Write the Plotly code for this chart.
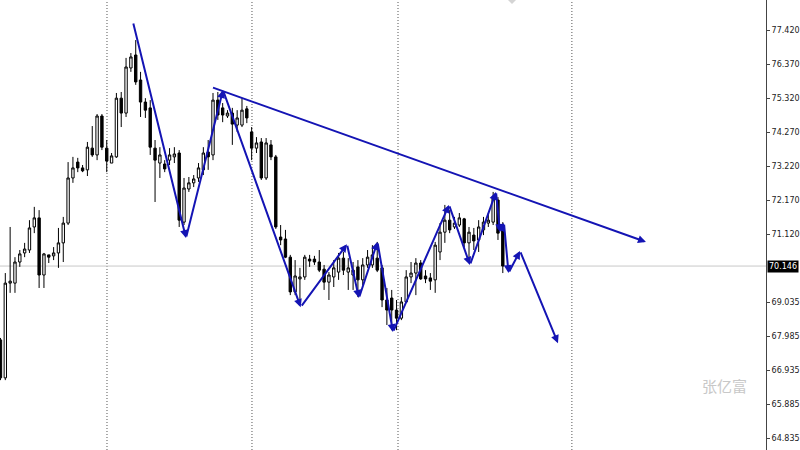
import plotly.graph_objects as go

# ---- candle data (bar index, OHLC) ----
opens = [67.87, 66.70, 69.62, 69.62, 70.27, 70.55, 70.64, 71.35, 71.63, 69.87,
         70.49, 70.46, 70.55, 70.86, 71.47, 72.86, 73.35, 73.17, 73.11, 73.78,
         73.57, 74.77, 73.78, 73.32, 73.51, 75.32, 74.86, 76.25, 76.65, 75.88,
         75.20, 75.02, 73.78, 73.32, 73.29, 73.41, 73.51, 73.63, 71.50, 72.52,
         72.71, 72.86, 73.11, 73.66, 73.57, 75.26, 75.02, 74.77, 74.86, 74.49,
         74.49, 74.99, 74.28, 73.78, 73.97, 72.86, 73.88, 73.51, 71.04, 70.98,
         70.42, 69.35, 69.75, 69.81, 70.36, 70.36, 70.27, 70.05, 69.65, 69.81,
         69.96, 70.39, 69.96, 69.87, 70.12, 69.72, 70.18, 70.18, 70.39, 70.09,
         69.10, 69.16, 68.79, 68.54, 69.04, 69.81, 69.93, 70.24, 69.84, 69.78,
         69.72, 70.58, 71.19, 71.56, 71.35, 71.41, 71.60, 70.86, 71.10, 70.95,
         71.26, 71.47, 71.50, 72.18, 71.41]
highs = [67.93, 69.93, 71.35, 70.42, 70.64, 70.86, 71.56, 71.97, 71.87, 70.55,
         70.49, 70.73, 71.32, 71.66, 73.35, 73.51, 73.48, 73.26, 73.97, 74.46,
         74.83, 74.83, 74.03, 73.63, 75.48, 75.51, 76.56, 76.71, 77.11, 76.13,
         75.32, 75.26, 74.03, 73.81, 73.41, 73.78, 73.81, 73.72, 72.86, 72.89,
         72.95, 73.32, 73.81, 74.03, 75.48, 75.51, 75.17, 74.95, 75.02, 74.95,
         75.32, 75.08, 74.43, 74.12, 74.09, 74.09, 74.03, 73.57, 71.41, 71.26,
         70.49, 70.33, 70.09, 70.49, 70.49, 70.46, 70.64, 70.18, 69.96, 70.33,
         70.55, 70.58, 70.39, 70.27, 70.33, 70.39, 70.64, 70.79, 70.89, 70.18,
         69.47, 69.41, 69.10, 69.19, 70.02, 70.27, 70.39, 70.33, 70.02, 69.93,
         70.89, 71.47, 72.03, 71.87, 71.66, 71.78, 71.63, 71.35, 71.32, 71.56,
         71.66, 71.78, 72.43, 72.27, 71.50]
lows = [66.63, 66.63, 69.32, 69.32, 70.12, 70.42, 70.55, 71.16, 69.47, 69.47,
        70.24, 70.33, 70.09, 70.27, 71.41, 72.71, 73.04, 73.04, 72.92, 73.51,
        73.41, 73.72, 73.04, 73.32, 73.48, 74.43, 74.74, 76.13, 75.73, 74.74,
        74.71, 73.57, 72.12, 72.86, 73.04, 73.26, 73.32, 71.35, 71.41, 72.43,
        72.58, 72.74, 72.95, 73.11, 73.41, 74.65, 74.58, 74.71, 73.88, 74.28,
        74.43, 74.55, 73.41, 73.63, 72.80, 72.80, 73.41, 71.29, 70.79, 70.39,
        69.25, 69.25, 69.10, 69.72, 70.12, 70.18, 69.96, 69.41, 69.10, 69.50,
        69.72, 69.87, 69.41, 69.41, 69.19, 69.56, 70.09, 70.09, 69.96, 68.88,
        68.33, 68.17, 68.17, 68.48, 69.01, 69.62, 69.25, 69.72, 69.62, 69.41,
        69.32, 70.33, 70.86, 71.16, 71.29, 71.35, 70.73, 70.33, 70.64, 70.58,
        71.10, 71.35, 71.41, 70.95, 69.93]
closes = [66.70, 69.62, 69.68, 70.27, 70.52, 70.67, 71.32, 71.63, 69.87, 70.52,
          70.42, 70.55, 70.86, 71.47, 72.86, 73.17, 73.17, 73.08, 73.81, 73.57,
          74.77, 73.81, 73.38, 73.54, 75.32, 74.86, 76.28, 76.59, 75.82, 75.20,
          74.95, 73.81, 73.41, 73.57, 73.14, 73.57, 73.60, 71.56, 72.55, 72.71,
          72.83, 73.17, 73.63, 73.51, 75.26, 74.80, 74.80, 74.86, 74.52, 74.71,
          74.95, 74.71, 73.78, 73.94, 72.86, 73.94, 73.51, 71.35, 70.95, 70.42,
          69.35, 69.84, 69.81, 70.42, 70.30, 70.27, 70.02, 69.65, 69.87, 70.09,
          70.39, 70.02, 70.09, 70.02, 69.72, 70.18, 70.42, 70.49, 70.02, 69.10,
          68.79, 68.79, 68.54, 69.04, 69.81, 69.93, 70.24, 69.75, 69.75, 69.68,
          70.79, 71.19, 71.56, 71.26, 71.47, 71.63, 70.86, 71.19, 70.92, 71.35,
          71.50, 71.56, 72.24, 71.16, 70.146]
bars = list(range(len(opens)))

# ---- drawn analysis lines (bar index, price) ----
zigzag_x = [27.43, 38.41, 46.07, 62.15, 71.74, 74.22, 78.05, 81.26, 92.86,
            97.20, 102.59, 103.42, 104.24, 105.18, 107.56, 115.42]
zigzag_y = [77.67, 71.01, 75.57, 68.88, 70.82, 69.16, 70.89, 68.11, 72.03,
            70.18, 72.43, 71.19, 71.47, 69.93, 70.61, 67.77]
trend_x = [43.69, 133.64]
trend_y = [75.66, 70.89]

separators = [22.05, 52.07, 82.30, 118.30]
last_price = 70.146
tick_vals = [77.420, 76.370, 75.320, 74.270, 73.220, 72.170, 71.120,
             69.035, 67.985, 66.935, 65.885, 64.835]
tick_text = ["%.3f" % v for v in tick_vals]

BLUE = "#1414b4"

fig = go.Figure()

fig.add_trace(go.Candlestick(
    x=bars, open=opens, high=highs, low=lows, close=closes,
    increasing=dict(line=dict(color="black", width=1), fillcolor="white"),
    decreasing=dict(line=dict(color="black", width=1), fillcolor="black"),
    whiskerwidth=0, hoverinfo="skip", showlegend=False,
))

shapes = []
for s in separators:
    shapes.append(dict(type="line", xref="x", yref="paper", x0=s, x1=s, y0=0, y1=1,
                       line=dict(color="#555555", width=1, dash="1px,2px"), layer="below"))
shapes.append(dict(type="line", xref="paper", yref="y", x0=0, x1=1,
                   y0=last_price, y1=last_price,
                   line=dict(color="#c8c8c8", width=1), layer="below"))
# small gray marker at the top edge
shapes.append(dict(type="path", xref="paper", yref="paper",
                   path="M %.4f,1 L %.4f,1 L %.4f,%.4f Z" % (508 / 766, 516 / 766, 512 / 766, 1 - 4 / 450),
                   fillcolor="#d4d4d4", line=dict(width=0)))
fig.update_layout(shapes=shapes)

annotations = []
# zigzag arrows
for i in range(1, len(zigzag_x)):
    annotations.append(dict(
        x=zigzag_x[i], y=zigzag_y[i], ax=zigzag_x[i - 1], ay=zigzag_y[i - 1],
        xref="x", yref="y", axref="x", ayref="y", text="", showarrow=True,
        arrowhead=2, arrowsize=0.8, arrowwidth=2, arrowcolor=BLUE, standoff=0,
        startstandoff=0))
annotations.append(dict(
    x=trend_x[1], y=trend_y[1], ax=trend_x[0], ay=trend_y[0],
    xref="x", yref="y", axref="x", ayref="y", text="", showarrow=True,
    arrowhead=2, arrowsize=0.8, arrowwidth=2, arrowcolor=BLUE, standoff=0))
# last price label
annotations.append(dict(
    x=1, xref="paper", xanchor="left", xshift=1, y=last_price, yref="y",
    text="70.146", showarrow=False, bgcolor="black", borderpad=1,
    font=dict(family="DejaVu Sans", size=8, color="white")))
# watermark
annotations.append(dict(
    x=724 / 766, y=1 - 385 / 450, xref="paper", yref="paper", text="张亿富",
    xanchor="center", yanchor="middle", showarrow=False,
    font=dict(family="Noto Sans CJK SC", size=15, color="#c8c8c8")))
fig.update_layout(annotations=annotations)

fig.update_layout(
    width=800, height=450,
    margin=dict(l=0, r=34, t=0, b=0),
    paper_bgcolor="white", plot_bgcolor="white",
    showlegend=False,
    xaxis=dict(range=[-0.10, 158.49], showgrid=False, zeroline=False,
               showticklabels=False, ticks="", rangeslider=dict(visible=False),
               fixedrange=True),
    yaxis=dict(range=[64.477, 78.345], side="right", showgrid=False, zeroline=False,
               tickvals=tick_vals, ticktext=tick_text, ticks="outside", ticklen=3,
               tickcolor="#444444", showline=True, linecolor="#444444", linewidth=1,
               tickfont=dict(family="DejaVu Sans", size=8, color="#222222"),
               fixedrange=True, automargin=False),
)

fig.write_html("out.html", config={"displayModeBar": False},
               post_script="document.body.style.margin='0';document.body.style.overflow='hidden';")
